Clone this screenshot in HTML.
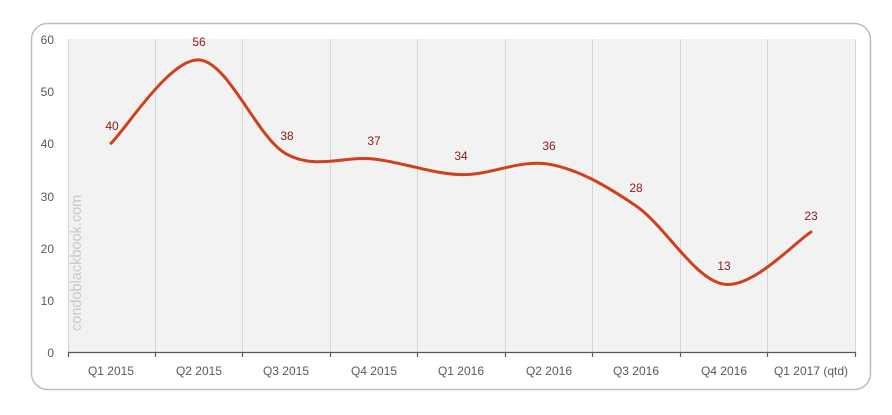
<!DOCTYPE html>
<html><head><style>html,body{margin:0;padding:0;background:#fff;}</style></head>
<body>
<svg width="892" height="410" xmlns="http://www.w3.org/2000/svg" font-family="Liberation Sans, sans-serif">
<rect x="31.5" y="23.5" width="839" height="366" rx="16" fill="#fff" stroke="#bdbdbd" stroke-width="1.5"/>
<rect x="68" y="39" width="787" height="313" fill="#f2f2f2"/>
<g stroke="#d4d4d4" stroke-width="1">
<line x1="68.5" y1="39" x2="68.5" y2="352"/>
<line x1="155.5" y1="39" x2="155.5" y2="352"/><line x1="242.5" y1="39" x2="242.5" y2="352"/>
<line x1="330.5" y1="39" x2="330.5" y2="352"/><line x1="417.5" y1="39" x2="417.5" y2="352"/>
<line x1="505.5" y1="39" x2="505.5" y2="352"/><line x1="592.5" y1="39" x2="592.5" y2="352"/>
<line x1="680.5" y1="39" x2="680.5" y2="352"/><line x1="767.5" y1="39" x2="767.5" y2="352"/>
<line x1="855.5" y1="39" x2="855.5" y2="352"/>
</g>
<g stroke="#595959" stroke-width="1.2">
<line x1="68" y1="352.5" x2="855" y2="352.5"/>
<line x1="68.5" y1="352" x2="68.5" y2="357"/><line x1="155.5" y1="352" x2="155.5" y2="357"/>
<line x1="242.5" y1="352" x2="242.5" y2="357"/><line x1="330.5" y1="352" x2="330.5" y2="357"/>
<line x1="417.5" y1="352" x2="417.5" y2="357"/><line x1="505.5" y1="352" x2="505.5" y2="357"/>
<line x1="592.5" y1="352" x2="592.5" y2="357"/><line x1="680.5" y1="352" x2="680.5" y2="357"/>
<line x1="767.5" y1="352" x2="767.5" y2="357"/><line x1="855.5" y1="352" x2="855.5" y2="357"/>
</g>
<g fill="#595959" font-size="12" text-anchor="end">
<text x="54" y="44">60</text><text x="54" y="96">50</text><text x="54" y="148">40</text>
<text x="54" y="201">30</text><text x="54" y="253">20</text><text x="54" y="305">10</text><text x="54" y="357">0</text>
</g>
<g fill="#595959" font-size="12" text-anchor="middle">
<text x="111" y="375">Q1 2015</text><text x="199" y="375">Q2 2015</text><text x="286" y="375">Q3 2015</text>
<text x="374" y="375">Q4 2015</text><text x="461" y="375">Q1 2016</text><text x="549" y="375">Q2 2016</text>
<text x="636" y="375">Q3 2016</text><text x="724" y="375">Q4 2016</text><text x="811" y="375">Q1 2017 (qtd)</text>
</g>
<text transform="translate(81,331) rotate(-90)" fill="#c8c8c8" font-size="14.5">condoblackbook.com</text>
<path d="M111,143.3 C125.7,129.4 169.8,58.2 199,59.9 C228.2,61.6 256.8,137.3 286,153.8 C315.2,170.3 344.8,155.5 374,159 C403.2,162.5 431.8,173.7 461,174.6 C490.2,175.5 519.8,159 549,164.2 C578.2,169.4 606.8,185.9 636,205.9 C665.2,225.9 694.8,279.9 724,284.2 C753.2,288.6 796.5,240.7 811,232" fill="none" stroke="#d23f1c" stroke-width="3" stroke-linecap="round"/>
<g fill="#8b1a1a" font-size="12" text-anchor="middle">
<text x="112" y="130">40</text><text x="199" y="46">56</text><text x="287" y="140">38</text>
<text x="374" y="145">37</text><text x="461" y="160">34</text><text x="549" y="150">36</text>
<text x="636" y="192">28</text><text x="724" y="270">13</text><text x="811" y="220">23</text>
</g>
</svg>
</body></html>
